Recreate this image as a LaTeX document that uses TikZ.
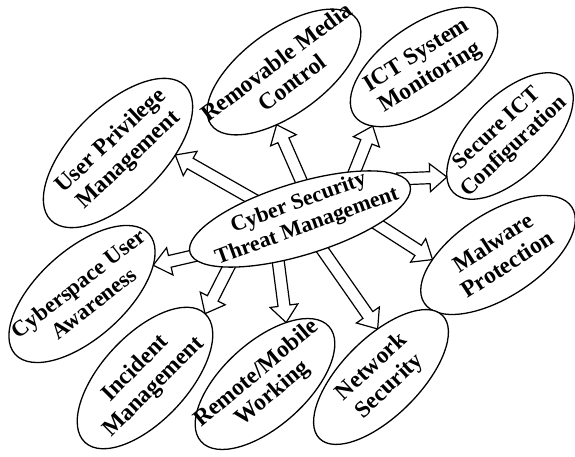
\documentclass[tikz,border=0pt]{standalone}
\usepackage{fontspec}
\setmainfont{Liberation Serif}
\usetikzlibrary{shapes.geometric,calc,backgrounds}

\begin{document}
\begin{tikzpicture}[x=1pt,y=1pt,
 oval/.style={ellipse,draw=black,line width=1.3pt,fill=white,inner sep=0pt,outer sep=0pt},
 txt/.style={font=\fontsize{23.5}{26}\selectfont\bfseries,align=center,inner sep=0pt},
 fat/.style={draw=black,line width=1.2pt,fill=white,line join=miter,
   to path={let \p1=(\tikztostart),\p2=(\tikztotarget),
     \n1={atan2(\y2-\y1,\x2-\x1)},\n2={veclen(\x2-\x1,\y2-\y1)} in
     ([shift={(\p1)},rotate=\n1]-8,-6) -- ([shift={(\p1)},rotate=\n1]\n2-17,-6)
     -- ([shift={(\p1)},rotate=\n1]\n2-17,-14) -- (\p2)
     -- ([shift={(\p1)},rotate=\n1]\n2-17,14) -- ([shift={(\p1)},rotate=\n1]\n2-17,6)
     -- ([shift={(\p1)},rotate=\n1]-8,6) -- cycle}}]
\useasboundingbox (0,0) rectangle (575,456);

% centre
\node[oval,minimum width=230pt,minimum height=72pt,rotate=17] (hub) at (300,237) {};
\node[txt,font=\fontsize{22}{25}\selectfont\bfseries,rotate=20] (hub-t) at (303,241) {Cyber Security\\Threat Management};

% outer ovals
\node[oval,minimum width=190pt,minimum height=92pt,rotate=45] (upm) at (118,303) {};
\node[txt,rotate=43] (upm-t) at (120,305) {User Privilege\\Management};
\node[oval,minimum width=180pt,minimum height=84pt,rotate=36] (rmc) at (284,384) {};
\node[txt,rotate=37] (rmc-t) at (284,384) {Removable Media\\Control};
\node[oval,minimum width=170pt,minimum height=84pt,rotate=35] (ictm) at (424,389) {};
\node[txt,rotate=32] (ictm-t) at (424,389) {ICT System\\Monitoring};
\node[oval,minimum width=160pt,minimum height=80pt,rotate=45] (sic) at (510,320) {};
\node[txt,font=\fontsize{22.5}{25}\selectfont\bfseries,rotate=43] (sic-t) at (506,318) {Secure ICT\\Configuration};
\node[oval,minimum width=176pt,minimum height=84pt,rotate=33] (mp) at (498,201) {};
\node[txt,rotate=33] (mp-t) at (500,203) {Malware\\Protection};
\node[oval,minimum width=174pt,minimum height=78pt,rotate=45] (ns) at (381,79) {};
\node[txt,rotate=43] (ns-t) at (381,79) {Network\\Security};
\node[oval,minimum width=172pt,minimum height=84pt,rotate=42] (rmw) at (265,72) {};
\node[txt,rotate=40] (rmw-t) at (265,72) {Remote/Mobile\\Working};
\node[oval,minimum width=176pt,minimum height=86pt,rotate=47] (im) at (145,78) {};
\node[txt,rotate=45] (im-t) at (145,78) {Incident\\Management};
\node[oval,minimum width=180pt,minimum height=88pt,rotate=42] (cua) at (82,162) {};
\node[txt,font=\fontsize{22.5}{25}\selectfont\bfseries,rotate=38] (cua-t) at (86,163) {Cyberspace User\\Awareness};

% hollow arrows
\begin{scope}[on background layer]
\draw[fat] (hub.140.5) to (upm.-47);
\draw[fat] (hub.71.7) to (rmc.226);
\draw[fat] (hub.24.8) to (ictm.194.8);
\draw[fat] (hub.4.3) to (sic.168.5);
\draw[fat] (hub.-21.8) to (mp.151.3);
\draw[fat] (hub.-71.6) to (ns.49.9);
\draw[fat] (hub.226) to (rmw.29.6);
\draw[fat] (hub.197.7) to (im.0);
\draw[fat] (hub.182.4) to (cua.-20.6);
\end{scope}
\end{tikzpicture}
\end{document}
